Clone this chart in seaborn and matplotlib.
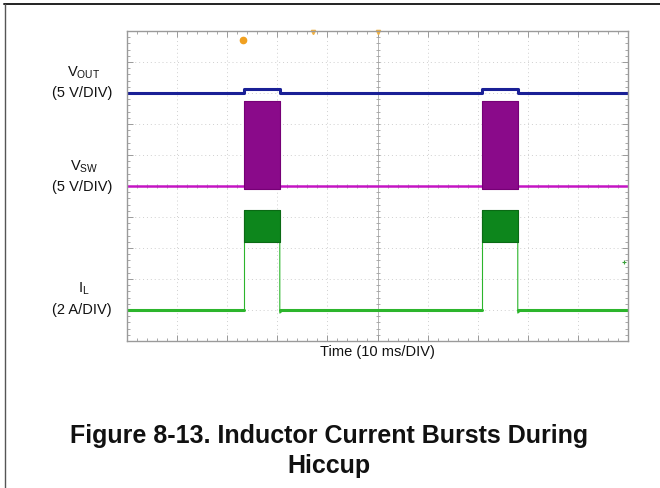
import numpy as np
import matplotlib
matplotlib.use("Agg")
import matplotlib.pyplot as plt
import seaborn as sns
from matplotlib.lines import Line2D

# scope screen in divisions: 10 x 10, time 0..10, level 0..10
burst_start = [2.34, 7.09]
burst_end = [3.05, 7.80]

vout_level = 8.0
vout_burst = 8.12

vsw_level = 5.0
vsw_high = 7.75
vsw_low = 4.9

il_level = 1.0
il_high = 4.22
il_low = 3.2
il_dip = 0.9

trig_marker = [2.32, 9.72]
top_marks_x = [3.72, 5.0]
stray_dot = [9.93, 2.55]

trace_labels = [("V$_{\\mathregular{OUT}}$", "(5 V/DIV)"),
                ("V$_{\\mathregular{SW}}$", "(5 V/DIV)"),
                ("I$_{\\mathregular{L}}$", "(2 A/DIV)")]
x_label = "Time (10 ms/DIV)"
title_lines = ["Figure 8-13. Inductor Current Bursts During", "Hiccup"]

blue = "#1a2096"
magenta = "#c415c4"
purple = "#8a0a8a"
green = "#2cb52c"
dkgreen = "#0d861c"

sns.set_theme(style="white")
plt.rcParams['font.family'] = ['Liberation Sans', 'DejaVu Sans']
plt.rcParams['mathtext.fontset'] = 'custom'
plt.rcParams['mathtext.rm'] = 'Liberation Sans'


def step_trace(base, high):
    t = [0.0]
    y = [base]
    for s, e in zip(burst_start, burst_end):
        t += [s, s, e, e]
        y += [base, high, high, base]
    t.append(10.0)
    y.append(base)
    return t, y


fig = plt.figure(figsize=(6.6, 4.89), dpi=100)
ax = fig.add_axes([127 / 660, 1 - 342 / 489, 501 / 660, 310 / 489])
ax.set_xlim(0, 10)
ax.set_ylim(0, 10)

# graticule
for k in range(1, 10):
    ax.axvline(k, color="#cfcfcf", lw=0.7, ls=(0, (1, 3)), zorder=0)
    ax.axhline(k, color="#cfcfcf", lw=0.7, ls=(0, (1, 3)), zorder=0)
ax.axvline(5, color="#b5b5b5", lw=0.7, zorder=0)
ax.axhline(5, color="#b5b5b5", lw=0.7, zorder=0)
ticks_c = np.arange(0, 10.01, 0.2)
ax.plot(ticks_c, np.full_like(ticks_c, 5), ls="none", marker="|", ms=3,
        color="#a0a0a0", mew=0.6, zorder=0)
ax.plot(np.full_like(ticks_c, 5), ticks_c, ls="none", marker="_", ms=3,
        color="#a0a0a0", mew=0.6, zorder=0)

ax.set_xticks(range(0, 11))
ax.set_yticks(range(0, 11))
ax.set_xticks(ticks_c, minor=True)
ax.set_yticks(ticks_c, minor=True)
ax.tick_params(which="both", direction="in", top=True, right=True,
               bottom=True, left=True, labelbottom=False, labelleft=False,
               color="#9a9a9a")
ax.tick_params(which="major", length=4, width=0.7)
ax.tick_params(which="minor", length=2.5, width=0.6)
for sp in ax.spines.values():
    sp.set_color("#9a9a9a")
    sp.set_linewidth(1.0)

# V_OUT
t, y = step_trace(vout_level, vout_burst)
sns.lineplot(x=t, y=y, sort=False, estimator=None, ax=ax, color=blue, lw=2.2)

# V_SW
sns.lineplot(x=[0, 10], y=[vsw_level, vsw_level], sort=False, estimator=None,
             ax=ax, color=magenta, lw=1.8)
for s, e in zip(burst_start, burst_end):
    ax.fill_between([s, e], vsw_low, vsw_high, color=purple, lw=0.8,
                    edgecolor="#760076", zorder=3)

# I_L
seg_from = [0.0] + burst_end
seg_to = burst_start + [10.0]
for a, b in zip(seg_from, seg_to):
    sns.lineplot(x=[a, b], y=[il_level, il_level], sort=False, estimator=None,
                 ax=ax, color=green, lw=2.2)
for s, e in zip(burst_start, burst_end):
    ax.plot([s, s], [il_level, il_high], color=green, lw=0.8)
    ax.plot([e, e, e + 0.08], [il_low, il_dip, il_level], color=green, lw=0.8)
    ax.fill_between([s, e], il_low, il_high, color=dkgreen, lw=0.8,
                    edgecolor="#0a6a14", zorder=3)

# markers
ax.plot(*trig_marker, marker="o", ms=4.5, color="#f0a020", ls="none",
        clip_on=False)
ax.plot(top_marks_x, [9.97] * len(top_marks_x), marker="v", ms=3,
        color="#f0b040", ls="none", clip_on=False)
ax.plot(*stray_dot, marker="+", ms=3, color="#3aa03a", ls="none", mew=0.8)

# left labels
label_y = [(73, 93), (167, 187), (289, 310)]
for (name, scale), (y1, y2) in zip(trace_labels, label_y):
    fig.text(84 / 660, 1 - y1 / 489, name, ha="center", va="center",
             fontsize=10.5, color="#111111")
    fig.text(82 / 660, 1 - y2 / 489, scale, ha="center", va="center",
             fontsize=10.5, color="#111111")

fig.text(377 / 660, 1 - 352 / 489, x_label, ha="center", va="center",
         fontsize=10.5, color="#111111")

fig.text(329 / 660, 1 - 443 / 489, title_lines[0], ha="center",
         va="baseline", fontsize=18, fontweight="bold", color="#111111")
fig.text(329 / 660, 1 - 473 / 489, title_lines[1], ha="center",
         va="baseline", fontsize=18, fontweight="bold", color="#111111")

# page frame
fig.add_artist(Line2D([4 / 660, 1], [1 - 4.5 / 489, 1 - 4.5 / 489],
                      color="#222222", lw=1.4, transform=fig.transFigure))
fig.add_artist(Line2D([4.5 / 660, 4.5 / 660], [0, 1 - 4.5 / 489],
                      color="#555555", lw=1.0, transform=fig.transFigure))

fig.savefig("out.png", dpi=100)
